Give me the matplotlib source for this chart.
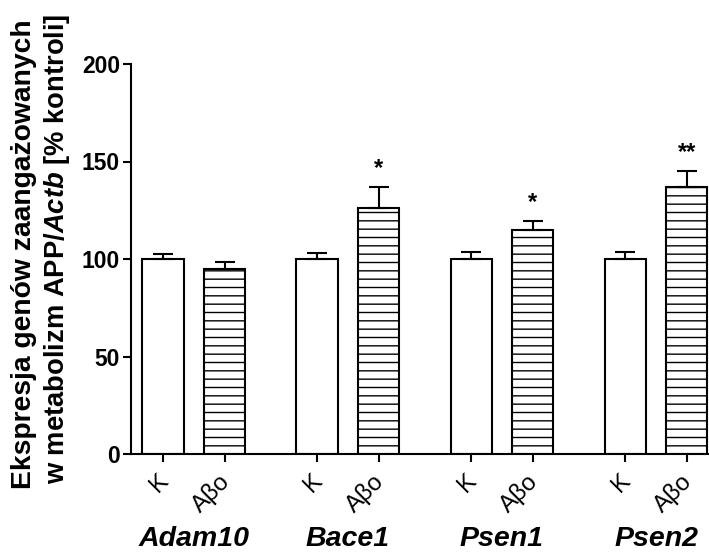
import matplotlib
matplotlib.use("Agg")
import matplotlib.pyplot as plt
import numpy as np

plt.rcParams['font.family'] = ['Liberation Sans', 'DejaVu Sans']
plt.rcParams['mathtext.fontset'] = 'custom'
plt.rcParams['mathtext.rm'] = 'Liberation Sans:bold'
plt.rcParams['mathtext.bf'] = 'Liberation Sans:bold'
plt.rcParams['mathtext.it'] = 'Liberation Sans:italic:bold'
plt.rcParams['mathtext.bfit'] = 'Liberation Sans:italic:bold'
plt.rcParams['hatch.linewidth'] = 1.0

genes = ["Adam10", "Bace1", "Psen1", "Psen2"]
conditions = ["K", "Aβo"]
k_values = [100, 100, 100, 100]
k_errors = [2.6, 3.0, 3.5, 3.8]
abo_values = [95, 126, 115, 137]
abo_errors = [3.5, 11, 4.7, 8.3]
significance = ["", "*", "*", "**"]
y_ticks = [0, 50, 100, 150, 200]

fig = plt.figure(figsize=(7.09, 5.53), dpi=100)
ax = fig.add_axes([131/709, (553-454)/553, 1 - 131/709, (454-64)/553])

gap = 2.5
k_pos = np.arange(len(genes)) * gap
a_pos = k_pos + 1
width = 0.67
lw = 1.5

ax.bar(k_pos, k_values, width, color='white', edgecolor='black', linewidth=lw, zorder=2)
ax.bar(a_pos, abo_values, width, color='white', edgecolor='black', linewidth=lw,
       hatch='--', zorder=2)
ax.errorbar(k_pos, k_values, yerr=[np.zeros(4), k_errors], fmt='none', ecolor='black',
            elinewidth=lw, capsize=7.2, capthick=lw, zorder=3)
ax.errorbar(a_pos, abo_values, yerr=[np.zeros(4), abo_errors], fmt='none', ecolor='black',
            elinewidth=lw, capsize=7.2, capthick=lw, zorder=3)

for x, v, e, s in zip(a_pos, abo_values, abo_errors, significance):
    if s:
        ax.annotate(s, (x, v + e), xytext=(0, 5), textcoords='offset points',
                    ha='center', va='bottom', fontsize=17, fontweight='bold')

ax.set_ylim(0, 200)
ax.set_xlim(-0.52, 8.86)
ax.set_yticks(y_ticks)
ax.set_yticklabels([str(t) for t in y_ticks], fontsize=16.5, fontweight='bold')

ticks = np.ravel(np.column_stack([k_pos, a_pos]))
labels = conditions * len(genes)
ax.set_xticks(ticks)
ax.set_xticklabels([])
for x, lab in zip(ticks, labels):
    ax.annotate(lab, (x, 0), xycoords=('data', 'axes fraction'),
                xytext=(1.5, -17), textcoords='offset points',
                rotation=45, rotation_mode='anchor', ha='right', va='center',
                fontsize=17.5, annotation_clip=False)

for sp in ['top', 'right']:
    ax.spines[sp].set_visible(False)
for sp in ['left', 'bottom']:
    ax.spines[sp].set_linewidth(lw)
ax.tick_params(axis='both', width=lw, length=6, direction='out')
ax.tick_params(axis='y', pad=2)

for g, x in zip(genes, (k_pos + a_pos) / 2):
    ax.annotate(g, (x, 0), xycoords=('data', 'axes fraction'),
                xytext=(0, -98 * 0.72), textcoords='offset points',
                ha='center', va='bottom', fontsize=20.5, fontweight='bold',
                fontstyle='italic', annotation_clip=False)

fig.text(24/709, 1 - 254/553, "Ekspresja genów zaangażowanych", rotation=90,
         ha='center', va='center', fontsize=20.3, fontweight='bold')
fig.text(57/709, 1 - 249/553, r"w metabolizm APP/$\mathbfit{Actb}$ [% kontroli]", rotation=90,
         ha='center', va='center', fontsize=19.7, fontweight='bold')

fig.savefig("out.png", dpi=100)
